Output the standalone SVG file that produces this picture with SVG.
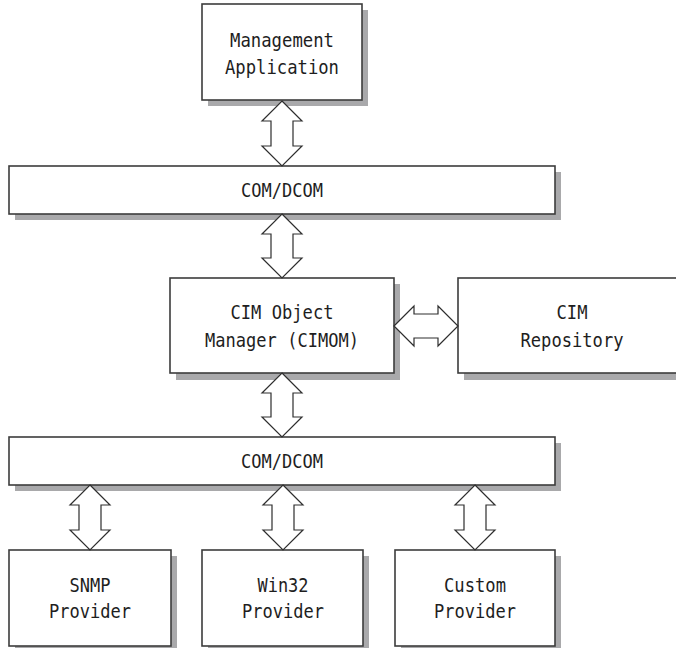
<svg xmlns="http://www.w3.org/2000/svg" width="676" height="648" viewBox="0 0 676 648">
<style>
.bg{fill:#ffffff}
.sh{fill:#a9a9ab}
.bx{fill:#ffffff;stroke:#3c3c3c;stroke-width:1.6}
.ar{fill:#ffffff;stroke:#2e2e2e;stroke-width:1.2;stroke-linejoin:miter}
.t{font-family:"DejaVu Sans Mono","Liberation Mono",monospace;font-size:19px;fill:#1e1e1e;text-anchor:middle}
</style>
<rect class="bg" x="0" y="0" width="676" height="648"/>
<g id="mgmt">
<rect class="sh" x="208" y="10" width="160" height="96"/>
<rect class="bx" x="202" y="4" width="160" height="96"/>
<text class="t" x="282" y="47" textLength="104" lengthAdjust="spacingAndGlyphs">Management</text>
<text class="t" x="282" y="74" textLength="114" lengthAdjust="spacingAndGlyphs">Application</text>
</g>
<g id="com1">
<rect class="sh" x="15" y="172" width="546" height="48"/>
<rect class="bx" x="9" y="166" width="546" height="48"/>
<text class="t" x="282" y="197" textLength="82" lengthAdjust="spacingAndGlyphs">COM/DCOM</text>
</g>
<g id="cimom">
<rect class="sh" x="176" y="284" width="224" height="96"/>
<rect class="bx" x="170" y="278" width="224" height="95"/>
<text class="t" x="282" y="319" textLength="103" lengthAdjust="spacingAndGlyphs">CIM Object</text>
<text class="t" x="282" y="347" textLength="154" lengthAdjust="spacingAndGlyphs">Manager (CIMOM)</text>
</g>
<g id="repo">
<rect class="sh" x="464" y="284" width="240" height="96"/>
<rect class="bx" x="458" y="278" width="240" height="95"/>
<text class="t" x="572" y="319" textLength="31" lengthAdjust="spacingAndGlyphs">CIM</text>
<text class="t" x="572" y="347" textLength="103" lengthAdjust="spacingAndGlyphs">Repository</text>
</g>
<g id="com2">
<rect class="sh" x="15" y="443" width="546" height="48"/>
<rect class="bx" x="9" y="437" width="546" height="48"/>
<text class="t" x="282" y="468" textLength="82" lengthAdjust="spacingAndGlyphs">COM/DCOM</text>
</g>
<g id="snmp">
<rect class="sh" x="15" y="556" width="162" height="96"/>
<rect class="bx" x="9" y="550" width="162" height="96"/>
<text class="t" x="90" y="592" textLength="41" lengthAdjust="spacingAndGlyphs">SNMP</text>
<text class="t" x="90" y="618" textLength="82" lengthAdjust="spacingAndGlyphs">Provider</text>
</g>
<g id="win32">
<rect class="sh" x="208" y="556" width="161" height="96"/>
<rect class="bx" x="202" y="550" width="161" height="96"/>
<text class="t" x="283" y="592" textLength="51" lengthAdjust="spacingAndGlyphs">Win32</text>
<text class="t" x="283" y="618" textLength="82" lengthAdjust="spacingAndGlyphs">Provider</text>
</g>
<g id="custom">
<rect class="sh" x="401" y="556" width="160" height="96"/>
<rect class="bx" x="395" y="550" width="160" height="96"/>
<text class="t" x="475" y="592" textLength="62" lengthAdjust="spacingAndGlyphs">Custom</text>
<text class="t" x="475" y="618" textLength="82" lengthAdjust="spacingAndGlyphs">Provider</text>
</g>
<g id="connectors">
<polygon class="ar" points="282,101 302,121 293,121 293,146 302,146 282,166 262,146 271,146 271,121 262,121"/>
<polygon class="ar" points="282,214 302,234 293,234 293,258 302,258 282,278 262,258 271,258 271,234 262,234"/>
<polygon class="ar" points="282,373 302,393 293,393 293,417 302,417 282,437 262,417 271,417 271,393 262,393"/>
<polygon class="ar" points="394,326 414,306 414,314 438,314 438,306 458,326 438,346 438,338 414,338 414,346"/>
<polygon class="ar" points="90,485 110,505 101,505 101,530 110,530 90,550 70,530 79,530 79,505 70,505"/>
<polygon class="ar" points="283,485 303,505 294,505 294,530 303,530 283,550 263,530 272,530 272,505 263,505"/>
<polygon class="ar" points="475,485 495,505 486,505 486,530 495,530 475,550 455,530 464,530 464,505 455,505"/>
</g>
</svg>
